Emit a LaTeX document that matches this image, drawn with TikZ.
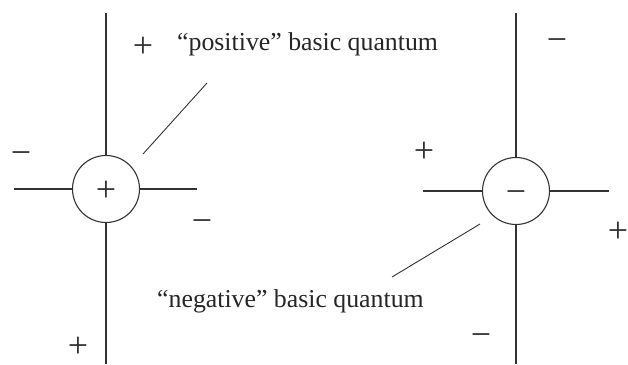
\documentclass[tikz,border=0pt]{standalone}
\usepackage{fontspec}
\setmainfont{Liberation Serif}
\usetikzlibrary{positioning}
\definecolor{inkgray}{HTML}{333333}

\begin{document}
\begin{tikzpicture}[x=1pt, y=-1pt,
  quantum/.style={circle, draw=inkgray, line width=1.1pt, minimum size=67pt, inner sep=0pt,
    text height=25pt, text depth=0pt, font=\fontsize{36}{40}\selectfont, text=inkgray},
  axis/.style={draw=inkgray, line width=1.3pt},
  sign/.style={inner sep=0pt, text height=24pt, text depth=0pt,
    font=\fontsize{36}{40}\selectfont, text=inkgray},
  caption/.style={inner sep=0pt, anchor=west, font=\fontsize{25.8}{30}\selectfont, text=black!85}]
\useasboundingbox (0,0) rectangle (628,364);

% positive quantum, left
\node[quantum] (posq) at (106,189) {+};
\coordinate (posT) at (106,13);
\coordinate (posB) at (106,364);
\coordinate (posL) at (14,189);
\coordinate (posR) at (197,189);
\draw[axis] (posT) -- (posq.north);
\draw[axis] (posq.south) -- (posB);
\draw[axis] (posL) -- (posq.west);
\draw[axis] (posq.east) -- (posR);
\node[sign] (posNW) at (21,152) {−};
\node[sign] (posSE) at (202,220) {−};
\node[sign] (posNE) at (143,45) {+};
\node[sign] (posSW) at (78,345) {+};

% negative quantum, right
\node[quantum] (negq) at (516,191) {−};
\coordinate (negT) at (516,13);
\coordinate (negB) at (516,364);
\coordinate (negL) at (423,191);
\coordinate (negR) at (609,191);
\draw[axis] (negT) -- (negq.north);
\draw[axis] (negq.south) -- (negB);
\draw[axis] (negL) -- (negq.west);
\draw[axis] (negq.east) -- (negR);
\node[sign] (negNE) at (557,39) {−};
\node[sign] (negNW) at (424,150) {+};
\node[sign] (negSE) at (618,230) {+};
\node[sign] (negSW) at (481,334) {−};

% captions with leaders
\node[caption] (poscap) at (177,44) {“positive” basic quantum};
\node[caption] (negcap) at (157,301) {“negative” basic quantum};
\coordinate (posleadA) at (207,83);
\coordinate (posleadB) at (143,154);
\coordinate (negleadA) at (392,277);
\coordinate (negleadB) at (480,224);
\draw[draw=inkgray, line width=0.9pt] (posleadA) -- (posleadB);
\draw[draw=inkgray, line width=0.9pt] (negleadA) -- (negleadB);
\end{tikzpicture}
\end{document}
